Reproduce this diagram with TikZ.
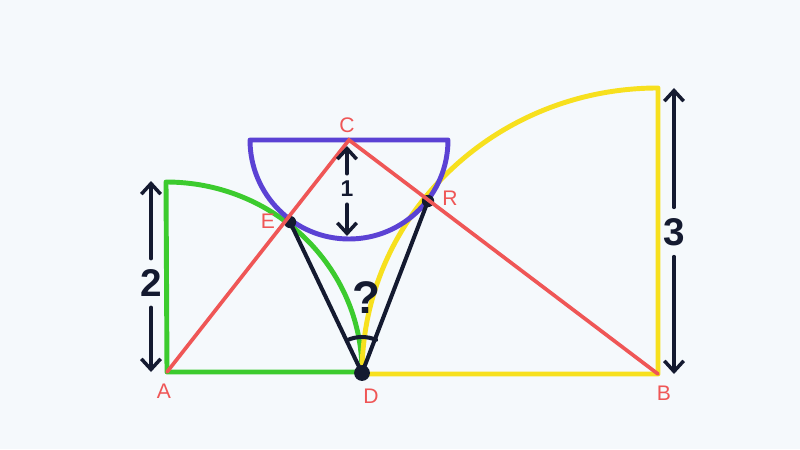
\documentclass[tikz,border=0pt]{standalone}
\usepackage{fontspec}
\setmainfont{Liberation Sans}
\usetikzlibrary{arrows.meta}
\definecolor{bgpaper}{HTML}{F5F9FC}
\definecolor{pengreen}{HTML}{3CCB2E}
\definecolor{penyellow}{HTML}{F7E01E}
\definecolor{penpurple}{HTML}{5B42D4}
\definecolor{penred}{HTML}{EF5656}
\definecolor{penblack}{HTML}{141A30}
\tikzset{
    greenline/.style = {draw = pengreen, line width = 2.8pt, line join = round},
    yellowline/.style = {draw = penyellow, line width = 2.8pt, line join = round},
    purpleline/.style = {draw = penpurple, line width = 2.8pt, line join = round},
    redline/.style = {draw = penred, line width = 2.1pt, line cap = round},
    blackline/.style = {draw = penblack, line width = 2.3pt, line cap = round},
    dimarrow/.style = {draw = penblack, line width = 2pt, line cap = round, -{Straight Barb[length = 6pt, width = 11pt, line width = 2pt]}},
    ptlabel/.style = {text = penred, font = \fontsize{12}{12}\selectfont},
    numlabel/.style = {text = penblack, font = \fontsize{22}{22}\selectfont\bfseries, inner sep = 6pt},
    dot/.style = {fill = penblack, circle, inner sep = 0pt, minimum size = #1}
}
\begin{document}
\begin{tikzpicture}[x = .02cm, y = -.02cm]
    \fill[bgpaper] (0,0) rectangle (800,449);
    \useasboundingbox (0,0) rectangle (800,449);
    \coordinate (A) at (167,372);
    \coordinate (D) at (362,373);
    \coordinate (B) at (658,374);
    \coordinate (C) at (349,140);
    \coordinate (E) at (290,222);
    \coordinate (F) at (428,201);
    \draw[greenline] (A) -- (166,182) arc[start angle = -90, end angle = 0, x radius = 196, y radius = 190] -- cycle;
    \draw[yellowline] (B) -- (658,88) arc[start angle = -90, end angle = -180, x radius = 296, y radius = 286] -- cycle;
    \draw[purpleline] (250,140) -- (448,140) arc[start angle = 0, end angle = 180, radius = 99] -- cycle;
    \draw[blackline] (E) -- (D) -- (F);
    \draw[blackline] (D) ++(-115:36) arc[start angle = -115, end angle = -67, radius = 36];
    \node[dot = 9pt] at (D) {};
    \node[dot = 7pt] at (E) {};
    \node[dot = 7pt] at (F) {};
    \draw[redline] (A) -- (C) -- (B);
    \node[ptlabel] (labC) at (347,125) {C};
    \node[ptlabel] (labE) at (268,221) {E};
    \node[ptlabel] (labF) at (450,198) {R};
    \node[ptlabel] (labA) at (164,391) {A};
    \node[ptlabel] (labD) at (371,396) {D};
    \node[ptlabel] (labB) at (664,393) {B};
    \node[numlabel, font = \fontsize{26}{26}\selectfont\bfseries] (ask) at (366,298) {?};
    \node[numlabel] (two) at (151,283) {2};
    \coordinate (twotop) at (151,181);
    \coordinate (twobot) at (151,372);
    \draw[dimarrow] (two.north) -- (twotop);
    \draw[dimarrow] (two.south) -- (twobot);
    \node[numlabel] (three) at (674,232) {3};
    \coordinate (threetop) at (674,88);
    \coordinate (threebot) at (674,374);
    \draw[dimarrow] (three.north) -- (threetop);
    \draw[dimarrow] (three.south) -- (threebot);
    \node[numlabel, font = \fontsize{13}{13}\selectfont\bfseries, inner sep = 4pt] (one) at (347,189) {1};
    \coordinate (onetop) at (347,146);
    \coordinate (onebot) at (347,236);
    \draw[dimarrow] (one.north) -- (onetop);
    \draw[dimarrow] (one.south) -- (onebot);
\end{tikzpicture}
\end{document}
